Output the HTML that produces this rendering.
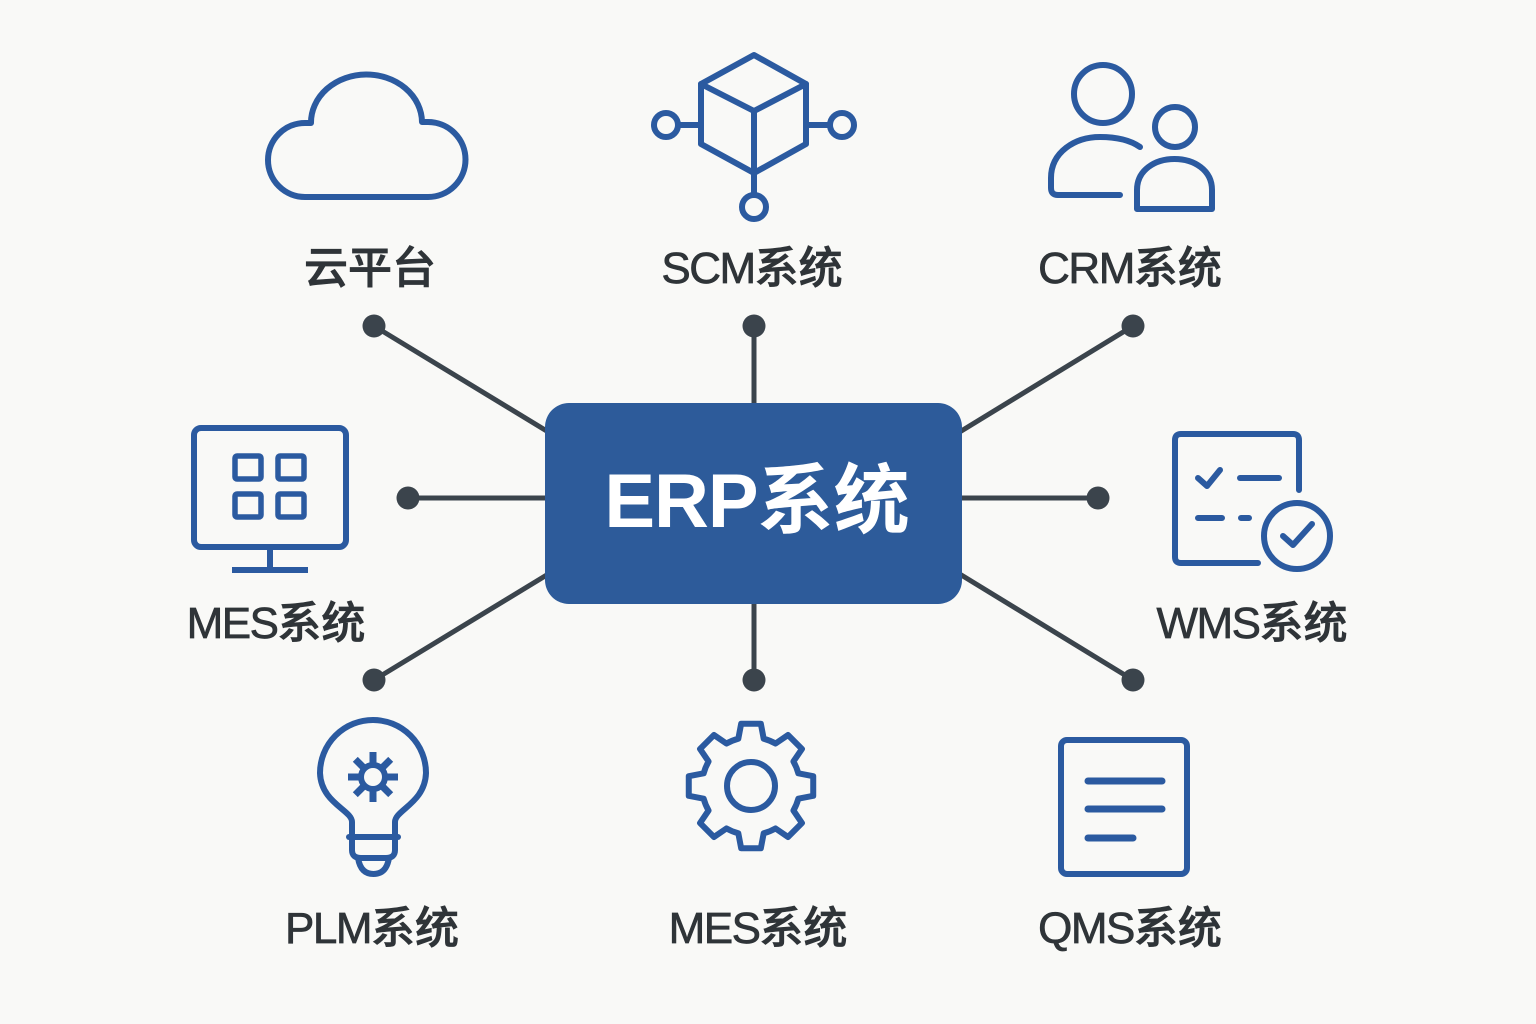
<!DOCTYPE html>
<html>
<head>
<meta charset="utf-8">
<style>
  html,body{margin:0;padding:0;background:#f9f9f7;}
  body{width:1536px;height:1024px;overflow:hidden;}
  svg{display:block;}
  .lbl{font-family:"Liberation Sans","Noto Sans CJK SC",sans-serif;font-size:44px;font-weight:500;fill:#2f3438;stroke:#2f3438;stroke-width:0.7;}
  .ic{fill:none;stroke:#2b5aa0;stroke-width:6;stroke-linecap:round;stroke-linejoin:round;}
</style>
</head>
<body>
<svg width="1536" height="1024" viewBox="0 0 1536 1024" xmlns="http://www.w3.org/2000/svg">
  <rect x="0" y="0" width="1536" height="1024" fill="#f9f9f7"/>

  <!-- connectors -->
  <g stroke="#3b444c" stroke-width="5" fill="#3b444c">
    <line x1="374" y1="326" x2="550" y2="433"/>
    <line x1="754" y1="326" x2="754" y2="405"/>
    <line x1="1133" y1="326" x2="958" y2="433"/>
    <line x1="408" y1="498" x2="548" y2="498"/>
    <line x1="1098" y1="498" x2="958" y2="498"/>
    <line x1="374" y1="680" x2="550" y2="573"/>
    <line x1="754" y1="680" x2="754" y2="600"/>
    <line x1="1133" y1="680" x2="958" y2="573"/>
    <g stroke="none">
      <circle cx="374" cy="326" r="11.5"/>
      <circle cx="754" cy="326" r="11.5"/>
      <circle cx="1133" cy="326" r="11.5"/>
      <circle cx="408" cy="498" r="11.5"/>
      <circle cx="1098" cy="498" r="11.5"/>
      <circle cx="374" cy="680" r="11.5"/>
      <circle cx="754" cy="680" r="11.5"/>
      <circle cx="1133" cy="680" r="11.5"/>
    </g>
  </g>

  <!-- central box -->
  <rect x="545" y="403" width="417" height="201" rx="24" fill="#2d5b9a"/>
  <text x="757" y="527" text-anchor="middle" font-family="'Liberation Sans','Noto Sans CJK SC',sans-serif" font-size="76" font-weight="700" fill="#ffffff"><tspan letter-spacing="-1">ERP</tspan>系统</text>

  <!-- cloud -->
  <path class="ic" d="M 305 197 A 37 37 0 0 1 305 123 L 311 123 A 55.5 48 0 0 1 422 122 L 428 122 A 37.5 37.5 0 0 1 428 197 Z"/>
  <text class="lbl" x="370" y="283" text-anchor="middle">云平台</text>

  <!-- SCM cube -->
  <g class="ic">
    <path d="M 754 55 L 806 84 L 806 144 L 754 173 L 701 144 L 701 84 Z"/>
    <path d="M 701 84 L 754 111 L 806 84 M 754 111 V 173"/>
    <path d="M 754 173 V 195 M 701 125 H 678 M 806 125 H 830"/>
    <circle cx="754" cy="207" r="12"/>
    <circle cx="666" cy="125" r="12"/>
    <circle cx="842" cy="125" r="12"/>
  </g>
  <text class="lbl" x="752" y="283" text-anchor="middle"><tspan letter-spacing="-1.5">SCM</tspan>系统</text>

  <!-- CRM users -->
  <g class="ic">
    <circle cx="1103" cy="94" r="29"/>
    <path d="M 1120 195 H 1058 Q 1051 195 1051 188 V 178 C 1051 152 1075 137 1100 137 C 1115 137 1130 140 1140 147"/>
    <circle cx="1175" cy="127" r="20"/>
    <path d="M 1137 209 V 190 C 1137 170 1155 159 1174.5 159 C 1194 159 1212 170 1212 190 V 209 Z"/>
  </g>
  <text class="lbl" x="1130" y="283" text-anchor="middle"><tspan letter-spacing="-1.5">CRM</tspan>系统</text>

  <!-- MES monitor -->
  <g class="ic">
    <rect x="194" y="428" width="152" height="119" rx="7"/>
    <path d="M 270 550 V 568 M 232 570 H 308" stroke-linecap="butt"/>
    <g stroke-width="5.5">
      <rect x="235" y="456" width="26" height="23" rx="2"/>
      <rect x="278" y="456" width="26" height="23" rx="2"/>
      <rect x="235" y="494" width="26" height="23" rx="2"/>
      <rect x="278" y="494" width="26" height="23" rx="2"/>
    </g>
  </g>
  <text class="lbl" x="276" y="638" text-anchor="middle"><tspan letter-spacing="-1.5">MES</tspan>系统</text>

  <!-- WMS checklist -->
  <g class="ic">
    <path d="M 1258 563 H 1181 Q 1175 563 1175 557 V 440 Q 1175 434 1181 434 H 1293 Q 1299 434 1299 440 V 490"/>
    <path d="M 1198 478 L 1207 486 L 1220 470"/>
    <path d="M 1240 478 H 1279"/>
    <path d="M 1198 518 H 1222 M 1241 518 H 1249"/>
    <circle cx="1297" cy="536" r="33"/>
    <path d="M 1283 536 L 1293 545 L 1312 524"/>
  </g>
  <text class="lbl" x="1252" y="638" text-anchor="middle"><tspan letter-spacing="-1.5">WMS</tspan>系统</text>

  <!-- PLM bulb -->
  <g class="ic">
    <path d="M 352 834 V 822 C 352 810 321 803 320 773 A 53 53 0 1 1 426 773 C 425 803 395 810 395 822 V 834"/>
    <path d="M 349 837 H 398"/>
    <path d="M 352 837 V 850 Q 352 858 361 858 H 386 Q 395 858 395 850 V 837"/>
    <path d="M 358 858 C 360 870 366 874 373.5 874 C 381 874 387 870 389 858"/>
    <circle cx="373" cy="777" r="12"/>
    <g stroke-width="7" stroke-linecap="butt">
      <line x1="387" y1="777" x2="398" y2="777"/>
      <line x1="359" y1="777" x2="348" y2="777"/>
      <line x1="373" y1="791" x2="373" y2="802"/>
      <line x1="373" y1="763" x2="373" y2="752"/>
      <line x1="382.9" y1="786.9" x2="390.7" y2="794.7"/>
      <line x1="363.1" y1="786.9" x2="355.3" y2="794.7"/>
      <line x1="382.9" y1="767.1" x2="390.7" y2="759.3"/>
      <line x1="363.1" y1="767.1" x2="355.3" y2="759.3"/>
    </g>
  </g>
  <text class="lbl" x="372" y="943" text-anchor="middle"><tspan letter-spacing="-1.5">PLM</tspan>系统</text>

  <!-- MES gear -->
  <g class="ic">
    <path d="M 738.32 738.67 L 741.15 723.77 L 760.85 723.77 L 763.68 738.67 A 49 49 0 0 1 775.5 743.56 L 788.03 735.03 L 801.97 748.97 L 793.44 761.5 A 49 49 0 0 1 798.33 773.32 L 813.23 776.15 L 813.23 795.85 L 798.33 798.68 A 49 49 0 0 1 793.44 810.5 L 801.97 823.03 L 788.03 836.97 L 775.5 828.44 A 49 49 0 0 1 763.68 833.33 L 760.85 848.23 L 741.15 848.23 L 738.32 833.33 A 49 49 0 0 1 726.5 828.44 L 713.97 836.97 L 700.03 823.03 L 708.56 810.5 A 49 49 0 0 1 703.67 798.68 L 688.77 795.85 L 688.77 776.15 L 703.67 773.32 A 49 49 0 0 1 708.56 761.5 L 700.03 748.97 L 713.97 735.03 L 726.5 743.56 A 49 49 0 0 1 738.32 738.67 Z"/>
    <circle cx="751" cy="786" r="24"/>
  </g>
  <text class="lbl" x="758" y="943" text-anchor="middle"><tspan letter-spacing="-1.5">MES</tspan>系统</text>

  <!-- QMS document -->
  <g class="ic">
    <rect x="1061" y="740" width="126" height="134" rx="6"/>
    <g stroke-width="7">
      <line x1="1088" y1="781" x2="1162" y2="781"/>
      <line x1="1088" y1="809" x2="1162" y2="809"/>
      <line x1="1088" y1="838" x2="1133" y2="838"/>
    </g>
  </g>
  <text class="lbl" x="1130" y="943" text-anchor="middle"><tspan letter-spacing="-1.5">QMS</tspan>系统</text>
</svg>
</body>
</html>
